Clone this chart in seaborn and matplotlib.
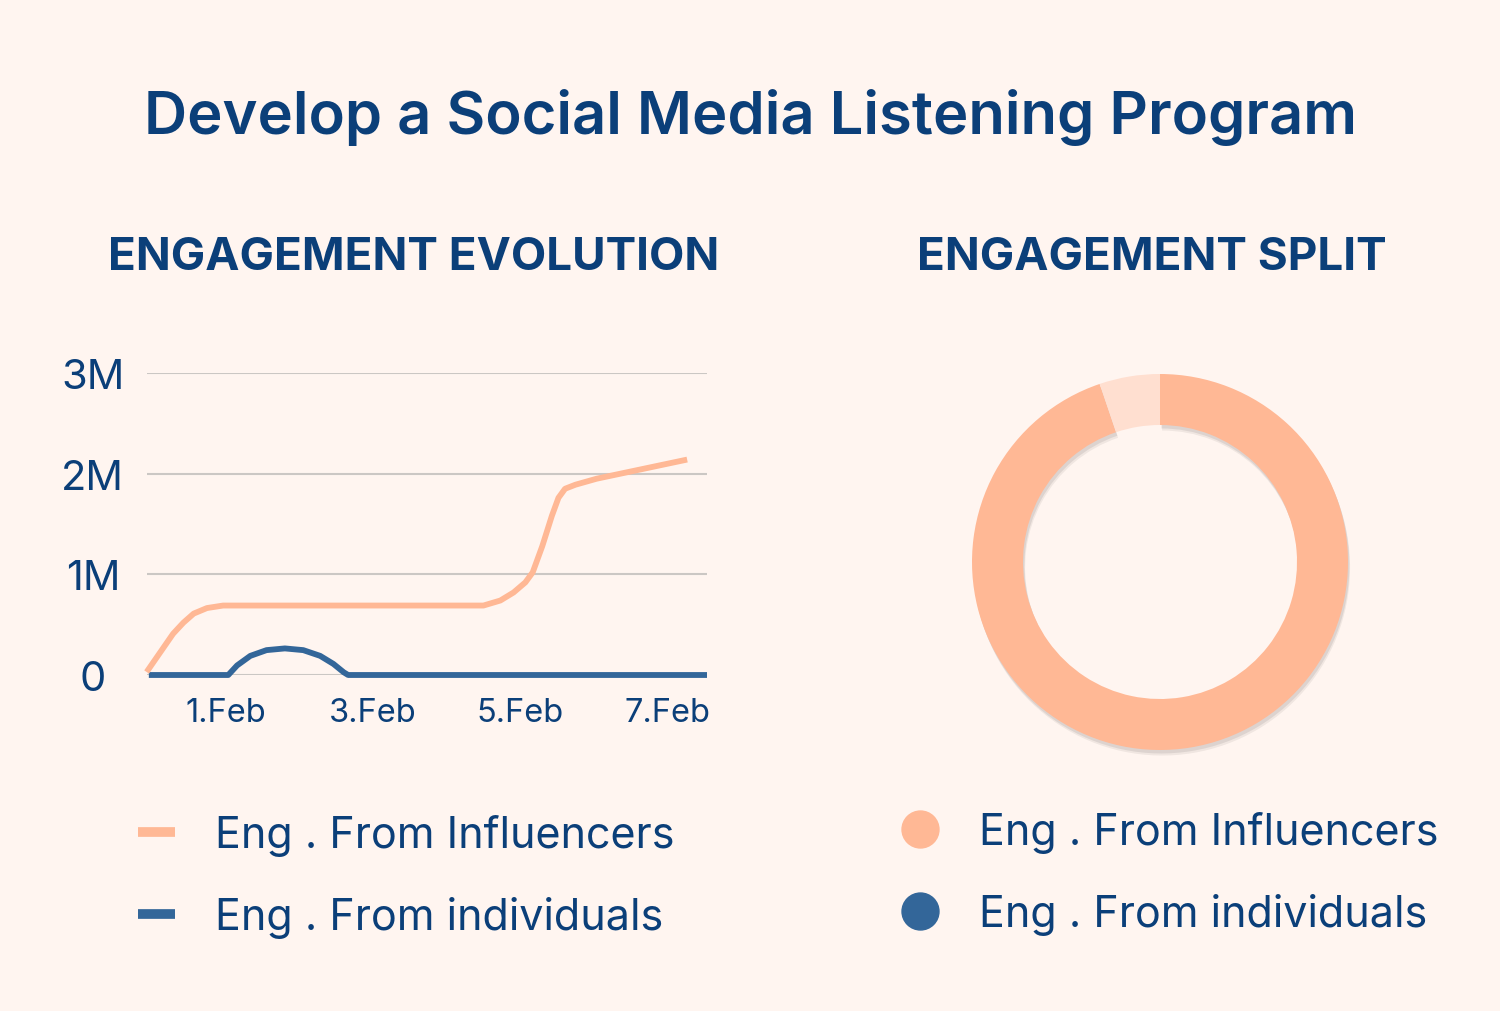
import matplotlib
matplotlib.use("Agg")
import matplotlib.pyplot as plt
import matplotlib.patheffects as pe
from matplotlib.lines import Line2D
import pandas as pd
import seaborn as sns

# ---------------- data ----------------
series_names = ["Eng . From Influencers", "Eng . From individuals"]
# x in days (1 = 1.Feb), y in millions
days_influencers = [-0.08, 0.28, 0.42, 0.56, 0.74, 0.96, 4.5, 4.73, 4.91, 5.07, 5.17,
                    5.30, 5.43, 5.52, 5.61, 5.75, 6.04, 7.27]
eng_influencers = [0.03, 0.41, 0.52, 0.61, 0.665, 0.69, 0.69, 0.74, 0.82, 0.92, 1.02,
                   1.28, 1.58, 1.76, 1.85, 1.89, 1.95, 2.14]
days_individuals = [-0.05, 1.03, 1.15, 1.33, 1.55, 1.80, 2.05, 2.28, 2.46, 2.60, 2.66, 7.54]
eng_individuals = [0.0, 0.0, 0.095, 0.19, 0.247, 0.264, 0.247, 0.19, 0.11, 0.027, 0.0, 0.0]
x_ticks = [1, 3, 5, 7]
x_tick_labels = ["1.Feb", "3.Feb", "5.Feb", "7.Feb"]
y_ticks = [0, 1, 2, 3]
y_tick_labels = ["0", "1M", "2M", "3M"]
split_values = [94.8, 5.2]  # influencers, individuals (%)

title = "Develop a Social Media Listening Program"
left_title = "ENGAGEMENT EVOLUTION"
right_title = "ENGAGEMENT SPLIT"

# ---------------- style ----------------
BG = "#fff5f0"
TXT = "#0b3f79"
PEACH = "#ffb895"
BLUE = "#336699"
LIGHT = "#ffdfd0"
GRID = "#cbc7c4"

sns.set_theme(style="white")
plt.rcParams['font.family'] = ['Inter', 'DejaVu Sans']

W, H = 1500, 1012
fig = plt.figure(figsize=(W / 100, H / 100), dpi=100, facecolor=BG)

# titles
fig.text(750 / W, 1 - 118 / H, title, ha="center", va="center",
         fontsize=43, fontweight="semibold", color=TXT)
fig.text(414 / W, 1 - 258 / H, left_title, ha="center", va="center",
         fontsize=33, fontweight="bold", color=TXT)
fig.text(1152 / W, 1 - 258 / H, right_title, ha="center", va="center",
         fontsize=33, fontweight="bold", color=TXT)

# ---------------- line chart ----------------
ax = fig.add_axes([147 / W, 1 - 676 / H, 560 / W, 302 / H])
ax.set_facecolor(BG)

df = pd.concat([
    pd.DataFrame({"day": days_influencers, "eng": eng_influencers, "series": series_names[0]}),
    pd.DataFrame({"day": days_individuals, "eng": eng_individuals, "series": series_names[1]}),
], ignore_index=True)

sns.lineplot(data=df, x="day", y="eng", hue="series", hue_order=series_names[::-1],
             palette={series_names[0]: PEACH, series_names[1]: BLUE},
             estimator=None, sort=False, linewidth=4.2, legend=False, ax=ax)
for ln in ax.get_lines():
    ln.set_clip_on(False)
    ln.set_solid_capstyle("butt")
    ln.set_solid_joinstyle("round")

ax.set_xlim(-0.075, 7.54)
ax.set_ylim(0, 3)
ax.set_xticks(x_ticks, x_tick_labels)
ax.set_yticks(y_ticks, y_tick_labels)
ax.yaxis.grid(True, color=GRID, linewidth=1.5)
ax.xaxis.grid(False)
ax.set_axisbelow(True)
for s in ax.spines.values():
    s.set_visible(False)
ax.set_xlabel("")
ax.set_ylabel("")
ax.tick_params(axis="x", length=0, pad=16, labelsize=23.5, labelcolor=TXT)
ax.tick_params(axis="y", length=0, pad=39, labelsize=30, labelcolor=TXT)
for lab in ax.get_yticklabels():
    lab.set_horizontalalignment("center")

# left legend
lh = [Line2D([], [], color=PEACH, lw=7, solid_capstyle="butt"),
      Line2D([], [], color=BLUE, lw=7, solid_capstyle="butt")]
fig.legend(lh, series_names, loc="center left", bbox_to_anchor=(138 / W, 1 - 877 / H),
           frameon=False, fontsize=31, labelcolor=TXT, handlelength=0.87,
           handletextpad=0.92, labelspacing=0.93, borderpad=0, borderaxespad=0)

# ---------------- donut ----------------
pax = fig.add_axes([960 / W, 1 - 763 / H, 400 / W, 400 / H])
wedges, _ = pax.pie(split_values, colors=[PEACH, LIGHT], startangle=90, counterclock=False,
                    radius=188 / 200, wedgeprops=dict(width=51 / 200, linewidth=0))
pax.set_xlim(-1, 1)
pax.set_ylim(-1, 1)
pax.set_aspect("equal")
pax.axis("off")
wedges[0].set_path_effects([
    pe.SimplePatchShadow(offset=(1.5, -4), shadow_rgbFace="#000000", alpha=0.06),
    pe.SimplePatchShadow(offset=(1.0, -2.5), shadow_rgbFace="#000000", alpha=0.08),
    pe.Normal(),
])

# right legend
rh = [Line2D([], [], color=PEACH, lw=0, marker="o", markersize=26.6),
      Line2D([], [], color=BLUE, lw=0, marker="o", markersize=26.6)]
fig.legend(rh, series_names, loc="center left", bbox_to_anchor=(898 / W, 1 - 874 / H),
           frameon=False, fontsize=31, labelcolor=TXT, handlelength=1.0,
           handletextpad=0.88, labelspacing=0.93, borderpad=0, borderaxespad=0)

fig.savefig("out.png", dpi=100, facecolor=BG)
